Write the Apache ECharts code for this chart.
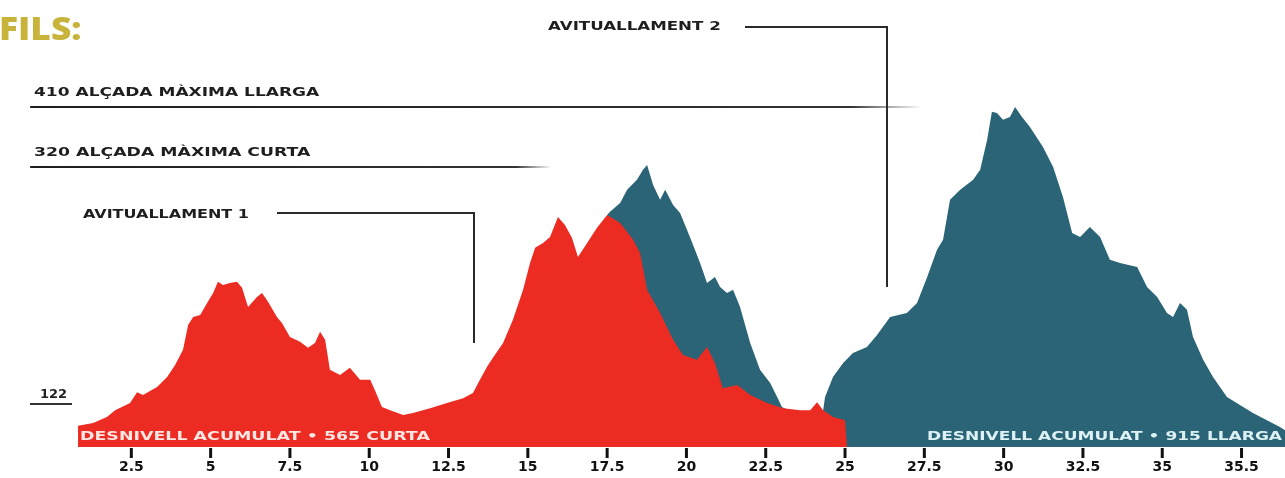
<!DOCTYPE html>
<html>
<head>
<meta charset="utf-8">
<title>Perfils</title>
<script src="https://cdn.jsdelivr.net/npm/echarts@6/dist/echarts.min.js"></script>
<style>
  html, body { margin: 0; padding: 0; background: #fff; }
  #chart { width: 1285px; height: 478px; }
</style>
</head>
<body>
<div id="chart"></div>
<script>
// perfil curta: [km, alçada]
const curta = [
  [0.82, -68], [1.3, -64], [1.73, -55], [1.99, -45], [2.46, -34], [2.68, -18], [2.87, -22],
  [3.31, -10], [3.63, 5], [3.88, 23], [4.13, 46], [4.29, 83], [4.45, 95], [4.67, 98],
  [4.89, 116], [5.08, 131], [5.23, 148], [5.39, 143], [5.61, 146], [5.83, 148], [5.99, 139],
  [6.18, 110], [6.46, 125], [6.62, 131], [6.81, 118], [7.09, 95], [7.25, 86], [7.5, 65],
  [7.82, 58], [8.07, 49], [8.29, 56], [8.45, 73], [8.61, 61], [8.76, 16], [9.08, 8],
  [9.39, 19], [9.71, 1], [10.03, 1], [10.18, -15], [10.4, -40], [10.66, -45], [11.07, -52],
  [11.38, -49], [11.92, -42], [12.45, -34], [12.96, -27], [13.27, -19], [13.49, 1],
  [13.71, 20], [13.9, 34], [14.22, 56], [14.53, 91], [14.85, 136], [15.07, 176],
  [15.23, 199], [15.48, 206], [15.7, 215], [15.95, 245], [16.17, 233], [16.39, 214],
  [16.58, 185], [16.87, 206], [17.18, 229], [17.5, 248], [17.91, 236], [18.32, 211],
  [18.54, 191], [18.76, 136], [19.17, 101], [19.58, 61], [19.89, 38], [20.33, 31],
  [20.65, 50], [20.9, 26], [21.15, -12], [21.6, -7], [22.01, -22], [22.54, -34],
  [23.05, -42], [23.58, -45], [23.9, -45], [24.12, -33], [24.31, -45], [24.62, -55],
  [25.0, -60], [25.06, -60]
];

// perfil llarga (a partir de la separació): [km, alçada]
const llarga = [
  [17.5, 248], [17.59, 253], [17.91, 266], [18.13, 286], [18.44, 301], [18.63, 316],
  [18.76, 323], [18.95, 293], [19.17, 271], [19.33, 286], [19.58, 263], [19.8, 251],
  [20.11, 215], [20.43, 176], [20.65, 146], [20.9, 155], [21.06, 140], [21.28, 131],
  [21.47, 136], [21.69, 110], [22.01, 56], [22.32, 16], [22.64, -4], [22.86, -25],
  [23.01, -40], [23.5, -52], [24.0, -52], [24.31, -45], [24.37, -25], [24.62, 5],
  [24.94, 26], [25.25, 41], [25.69, 50], [26.01, 68], [26.42, 95], [26.95, 101],
  [27.27, 116], [27.59, 155], [27.9, 196], [28.09, 211], [28.31, 271], [28.63, 286],
  [29.04, 301], [29.26, 316], [29.48, 361], [29.63, 403], [29.79, 401], [29.98, 391],
  [30.2, 395], [30.36, 410], [30.58, 395], [30.83, 380], [31.24, 350], [31.56, 320],
  [31.87, 275], [32.16, 221], [32.41, 215], [32.72, 230], [33.04, 215], [33.35, 181],
  [33.67, 176], [34.21, 170], [34.52, 140], [34.84, 125], [35.15, 101], [35.34, 95],
  [35.56, 116], [35.78, 106], [35.97, 65], [36.29, 31], [36.6, 5], [37.04, -25],
  [37.45, -37], [37.86, -49], [38.3, -60], [38.71, -70], [38.87, -75]
];

const tickKm = [2.5, 5, 7.5, 10, 12.5, 15, 17.5, 20, 22.5, 25, 27.5, 30, 32.5, 35, 37.5];
const tickLabels = ['2.5', '5', '7.5', '10', '12.5', '15', '17.5', '20', '22.5', '25',
  '27.5', '30', '32.5', '35', '35.5'];

const maxLlarga = 410;
const maxCurta = 320;

const RED = '#EC2B23';
const TEAL = '#2B6476';
const TXT = 'bold 13px "DejaVu Sans"';

function fade(stop) {
  return new echarts.graphic.LinearGradient(0, 0, 1, 0, [
    { offset: 0, color: '#1e1e1e' },
    { offset: stop, color: '#333' },
    { offset: 1, color: 'rgba(80,80,80,0)' }
  ]);
}

const myChart = echarts.init(document.getElementById('chart'));
const option = {
  animation: false,
  grid: { left: 0, right: 0, top: 7, bottom: 31 },
  xAxis: {
    type: 'value',
    min: -1.64,
    max: 38.87,
    splitLine: { show: false },
    axisLine: { show: false, onZero: false },
    axisTick: { show: false },
    axisLabel: {
      customValues: tickKm,
      // tick mark drawn as a small block above each label
      formatter: v => {
        const i = tickKm.indexOf(v);
        return i < 0 ? '' : '{t|}\n{v|' + tickLabels[i] + '}';
      },
      margin: 1,
      rich: {
        t: { width: 3, height: 10, backgroundColor: '#111', lineHeight: 10 },
        v: {
          fontFamily: 'DejaVu Sans',
          fontWeight: 'bold',
          fontSize: 14,
          color: '#111',
          lineHeight: 19
        }
      }
    }
  },
  yAxis: { type: 'value', min: -100, max: 560, show: false },
  series: [
    {
      name: 'llarga',
      type: 'line',
      data: llarga,
      symbol: 'none',
      lineStyle: { width: 0 },
      areaStyle: { color: TEAL, opacity: 1, origin: 'start' },
      z: 1
    },
    {
      name: 'curta',
      type: 'line',
      data: curta,
      symbol: 'none',
      lineStyle: { width: 0 },
      areaStyle: { color: RED, opacity: 1, origin: 'start' },
      z: 2,
      markLine: {
        silent: true,
        symbol: 'none',
        label: { show: false },
        data: [
          [{ coord: [-0.69, maxLlarga], lineStyle: { color: fade(0.92), width: 2, type: 'solid' } },
           { coord: [27.36, maxLlarga] }],
          [{ coord: [-0.69, maxCurta], lineStyle: { color: fade(0.93), width: 2, type: 'solid' } },
           { coord: [15.7, maxCurta] }]
        ]
      }
    }
  ],
  graphic: [
    { type: 'text', x: -1, y: 31, scaleX: 1.14, z: 100,
      style: { text: 'FILS:', font: '800 31px "Open Sans"', fill: '#C8B43A', verticalAlign: 'middle' } },
    { type: 'text', x: 34, y: 93, scaleX: 1.31, z: 100,
      style: { text: maxLlarga + ' ALÇADA MÀXIMA LLARGA', font: TXT, fill: '#1e1e1e', verticalAlign: 'middle' } },
    { type: 'text', x: 34, y: 153, scaleX: 1.33, z: 100,
      style: { text: maxCurta + ' ALÇADA MÀXIMA CURTA', font: TXT, fill: '#1e1e1e', verticalAlign: 'middle' } },
    { type: 'text', x: 83, y: 215, scaleX: 1.23, z: 100,
      style: { text: 'AVITUALLAMENT 1', font: TXT, fill: '#1e1e1e', verticalAlign: 'middle' } },
    { type: 'polyline', z: 100,
      shape: { points: [[277, 213], [474, 213], [474, 343]] },
      style: { stroke: '#2a2a2a', lineWidth: 2, fill: null } },
    { type: 'text', x: 548, y: 27, scaleX: 1.28, z: 100,
      style: { text: 'AVITUALLAMENT 2', font: TXT, fill: '#1e1e1e', verticalAlign: 'middle' } },
    { type: 'polyline', z: 100,
      shape: { points: [[745, 27], [887, 27], [887, 287]] },
      style: { stroke: '#2a2a2a', lineWidth: 2, fill: null } },
    { type: 'text', x: 40, y: 395, z: 100,
      style: { text: '122', font: TXT, fill: '#1e1e1e', verticalAlign: 'middle' } },
    { type: 'line', z: 100,
      shape: { x1: 30, y1: 404, x2: 72, y2: 404 },
      style: { stroke: '#333', lineWidth: 2 } },
    { type: 'text', x: 80, y: 437, scaleX: 1.34, z: 100,
      style: { text: 'DESNIVELL ACUMULAT • 565 CURTA', font: TXT, fill: '#FFE6E2', verticalAlign: 'middle' } },
    { type: 'text', x: 927, y: 437, scaleX: 1.31, z: 100,
      style: { text: 'DESNIVELL ACUMULAT • 915 LLARGA', font: TXT, fill: '#DDF1F5', verticalAlign: 'middle' } }
  ]
};
myChart.setOption(option);
</script>
</body>
</html>
